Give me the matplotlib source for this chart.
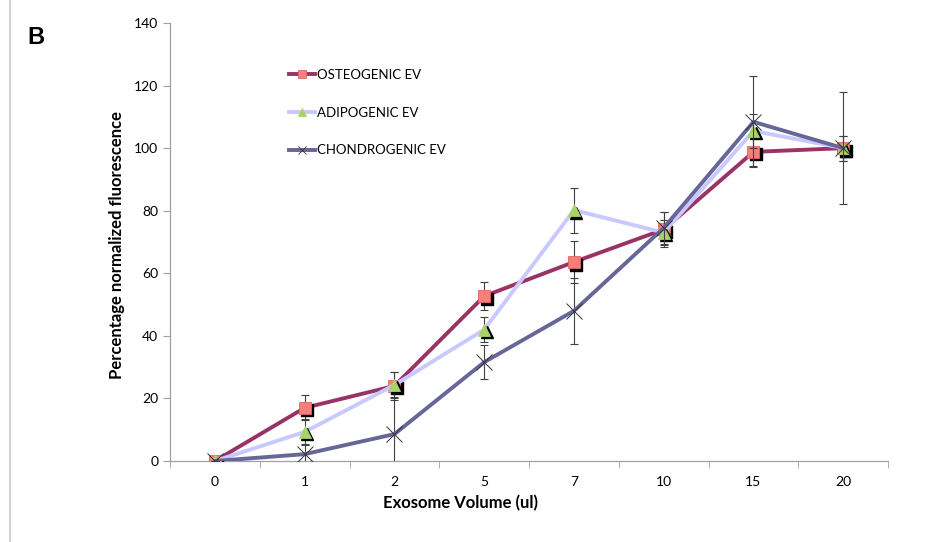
import matplotlib
matplotlib.use("Agg")
import matplotlib.pyplot as plt
import matplotlib.transforms as mtransforms
from matplotlib.lines import Line2D
import numpy as np

categories = ["0", "1", "2", "5", "7", "10", "15", "20"]
osteo = [0, 17, 24, 52.7, 63.6, 74, 98.8, 100]
osteo_err = [0, 4, 4.5, 4.5, 6.7, 5.5, 4.6, 4]
adipo = [0, 9.3, 24.3, 42, 80.2, 73, 105.5, 100]
adipo_err = [0, 4, 4, 4, 7.2, 4, 5.5, 18]
chondro = [0, 2.2, 8.6, 31.6, 48, 74.5, 108.4, 100]
chondro_err = [0, 3, 12, 5.5, 10.6, 5, 14.5, 4]

y_ticks = [0, 20, 40, 60, 80, 100, 120, 140]

FONT = "Lato"
fig = plt.figure(figsize=(9.29, 5.42), dpi=100)
ax = fig.add_axes([0.183, 0.1494, 0.773, 0.8082])

x = np.arange(len(categories))
shadow = mtransforms.offset_copy(ax.transData, fig=fig, x=2.5, y=-2.5, units="dots")

series = [
    ("OSTEOGENIC EV", osteo, osteo_err, "#993366", "s", "#F47F7B", "#E06666", 9),
    ("ADIPOGENIC EV", adipo, adipo_err, "#C9C9FF", "^", "#A8D36A", "#A8D36A", 9),
    ("CHONDROGENIC EV", chondro, chondro_err, "#666699", "x", "none", "#333333", 11),
]
handles = []
for i, (lab, vals, err, lc, mk, mfc, mec, ms) in enumerate(series):
    z = 2 + i * 3
    ax.errorbar(x, vals, yerr=err, fmt="none", ecolor="#404040", elinewidth=0.8,
                capsize=3, capthick=0.8, zorder=z)
    ax.plot(x, vals, color=lc, lw=2.8, zorder=z + 0.5)
    if mk != "x":
        ax.plot(x, vals, ls="none", marker=mk, ms=ms, mfc="black", mec="black",
                transform=shadow, zorder=z + 1)
        ax.plot(x, vals, ls="none", marker=mk, ms=ms, mfc=mfc, mec=mec, mew=0.6,
                zorder=z + 2)
    else:
        ax.plot(x, vals, ls="none", marker=mk, ms=ms, mec=mec, mew=0.7,
                zorder=z + 2)
    handles.append(Line2D([], [], color=lc, lw=2.8, marker=mk, ms=6,
                          mfc=mfc if mk != "x" else "none", mec=mec, mew=0.6))

ax.set_xlim(-0.5, len(categories) - 0.5)
ax.set_ylim(0, 140)
ax.set_yticks(y_ticks)
ax.set_yticklabels([str(v) for v in y_ticks], fontfamily=FONT, fontsize=10)
ax.set_xticks(x)
ax.set_xticklabels(categories, fontfamily=FONT, fontsize=10)
ax.set_xticks(np.arange(-0.5, len(categories), 1), minor=True)
ax.tick_params(axis="x", which="major", length=0, pad=11)
ax.tick_params(axis="x", which="minor", length=5, color="#A0A0A0", direction="out")
ax.tick_params(axis="y", length=5, color="#A0A0A0", direction="out")
for s in ["top", "right"]:
    ax.spines[s].set_visible(False)
for s in ["left", "bottom"]:
    ax.spines[s].set_color("#A0A0A0")
    ax.spines[s].set_linewidth(0.9)

ax.set_xlabel("Exosome Volume (ul)", fontfamily=FONT, fontweight="bold", fontsize=12)
ax.xaxis.set_label_coords(0.405, -0.078)
ax.set_ylabel("Percentage normalized fluorescence", fontfamily=FONT, fontweight="bold",
              fontsize=12)
ax.yaxis.set_label_coords(-0.063, 0.493)

leg = ax.legend(handles, [s[0] for s in series], loc="upper left",
                bbox_to_anchor=(277 / 929, 1 - 57 / 542), bbox_transform=fig.transFigure,
                frameon=False, handlelength=2.0, handletextpad=0.1, labelspacing=1.95,
                prop={"family": FONT, "size": 9.5})

fig.text(27 / 929, 1 - 37 / 542, "B", fontfamily="Liberation Sans", fontweight="bold",
         fontsize=17, ha="left", va="center")
fig.add_artist(Line2D([10 / 929, 10 / 929], [0, 1], color="#C8C8C8", lw=1.2,
                      transform=fig.transFigure))

fig.savefig("out.png", dpi=100, facecolor="white")
